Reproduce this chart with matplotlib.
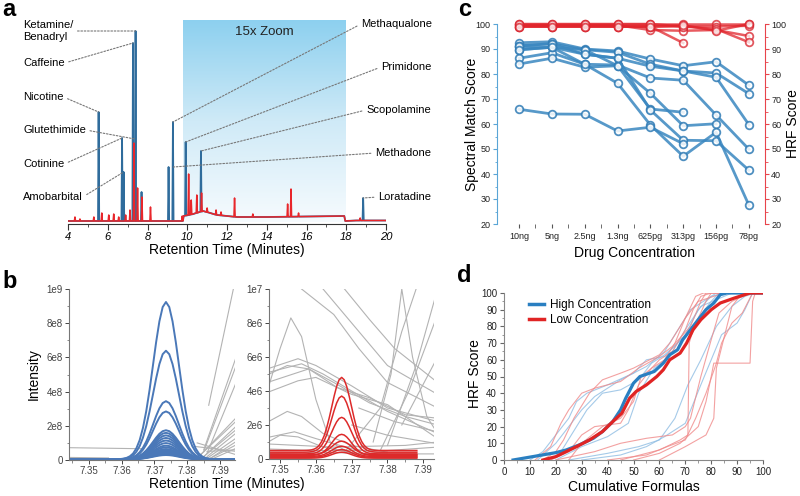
import numpy as np
import matplotlib.pyplot as plt
from matplotlib.colors import LinearSegmentedColormap
from matplotlib.ticker import MultipleLocator
from matplotlib.lines import Line2D

plt.rcParams['font.family'] = ['Liberation Sans', 'DejaVu Sans']

W, H = 800, 496

# ---------------- panel a : chromatogram (heights in arbitrary units) ----------
base_t = [4.0, 9.78, 9.82, 10.3, 10.8, 11.5, 12.5, 14.0, 16.0, 17.9, 17.95, 18.5, 20.0]
base_y = [3, 3, 8, 10, 13, 9, 7, 7, 7.5, 8, 3, 3.5, 3.5]

blue_peak_t = [5.54, 6.72, 6.80, 7.27, 7.40, 7.70, 9.06, 9.28, 9.92, 10.69, 18.85]
blue_peak_h = [112, 86, 52, 181, 193, 32, 57, 102, 82, 73, 26]

red_peak_t = [4.35, 4.6, 5.3, 5.7, 6.05, 6.3, 6.55, 6.9, 7.12, 7.32, 7.50, 7.72, 8.15,
              9.75, 10.07, 10.2, 10.48, 10.72, 11.0, 11.45, 11.7, 12.38, 13.3,
              15.05, 15.22, 15.6, 18.7]
red_peak_h = [7, 5, 7, 11, 9, 10, 7, 9, 14, 81, 36, 27, 17,
              8, 50, 24, 29, 31, 16, 14, 12, 26, 10,
              20, 35, 11, 6]

left_names = ['Ketamine/\nBenadryl', 'Caffeine', 'Nicotine', 'Glutethimide', 'Cotinine', 'Amobarbital']
left_targets = [(7.40, 193), (7.27, 181), (5.54, 112), (7.37, 85), (6.72, 86), (6.80, 52)]
right_names = ['Methaqualone', 'Primidone', 'Scopolamine', 'Methadone', 'Loratadine']
right_targets = [(9.28, 102), (9.92, 82), (10.69, 73), (9.3, 57), (18.85, 26)]

# ---------------- panel b : extracted ion peaks ----------------
half_off = [0.0, 0.001, 0.002, 0.003, 0.004, 0.005, 0.006, 0.007, 0.008, 0.009,
            0.010, 0.011, 0.012, 0.013, 0.014, 0.015, 0.016, 0.030]
half_rel = [1.0, 0.968, 0.877, 0.744, 0.591, 0.440, 0.306, 0.200, 0.122, 0.070,
            0.037, 0.019, 0.009, 0.004, 0.0016, 0.0006, 0.0, 0.0]
blue_center = 7.3735
blue_heights = [9.2e8, 6.35e8, 3.4e8, 2.8e8, 1.7e8, 1.55e8, 1.4e8, 1.25e8, 1.1e8,
                9.5e7, 8e7, 7e7, 6e7, 5.5e7, 5e7, 4.5e7, 4e7, 3.5e7, 3e7, 2.5e7]
red_center = 7.3672
red_heights = [4.3e6, 3.3e6, 2.15e6, 1.25e6, 0.8e6, 0.6e6, 0.45e6, 0.35e6]
red_bases = [0.5e6, 0.4e6, 0.3e6, 0.2e6, 0.25e6, 0.15e6, 0.1e6, 0.05e6]

gray_left = [
    ([7.344, 7.366], [7.2e7, 6.6e7]),
    ([7.344, 7.356], [1.5e7, 1.2e7]),
    ([7.344, 7.356], [0.8e7, 0.8e7]),
    ([7.3865, 7.394], [3.2e8, 1.0e9]),
    ([7.385, 7.395], [0.6e8, 6.1e8]),
    ([7.385, 7.395], [0.5e8, 5.6e8]),
    ([7.386, 7.395], [0.4e8, 4.6e8]),
    ([7.384, 7.395], [0.3e8, 2.5e8]),
    ([7.384, 7.395], [0.3e8, 2.3e8]),
    ([7.385, 7.395], [0.2e8, 2.0e8]),
    ([7.385, 7.395], [0.2e8, 1.8e8]),
    ([7.386, 7.395], [0.2e8, 1.6e8]),
    ([7.386, 7.395], [0.1e8, 1.3e8]),
    ([7.387, 7.395], [0.1e8, 1.1e8]),
    ([7.387, 7.395], [0.1e8, 0.9e8]),
    ([7.388, 7.395], [0.1e8, 0.7e8]),
    ([7.383, 7.395], [1.0e8, 0.3e8]),
    ([7.382, 7.395], [0.8e8, 0.5e8]),
    ([7.386, 7.395], [0.5e8, 0.6e8]),
]
gray_right = [
    ([7.345, 7.350, 7.353, 7.356, 7.360, 7.364, 7.370, 7.380], [3.0e6, 6.5e6, 8.3e6, 7.2e6, 3.5e6, 1.0e6, 0.3e6, 0.2e6]),
    ([7.345, 7.355, 7.360, 7.370, 7.380, 7.394], [5.2e6, 5.9e6, 5.5e6, 4.3e6, 3.0e6, 2.2e6]),
    ([7.345, 7.356, 7.362, 7.370, 7.380, 7.394], [5.0e6, 5.6e6, 5.0e6, 4.0e6, 2.8e6, 1.5e6]),
    ([7.345, 7.358, 7.365, 7.375, 7.385, 7.394], [4.4e6, 5.3e6, 4.5e6, 3.3e6, 2.5e6, 2.0e6]),
    ([7.345, 7.355, 7.360, 7.370, 7.380, 7.394], [3.8e6, 4.6e6, 4.8e6, 3.8e6, 3.2e6, 1.2e6]),
    ([7.345, 7.352, 7.358, 7.366, 7.375, 7.385, 7.394], [4.8e6, 5.5e6, 5.3e6, 4.2e6, 3.6e6, 2.6e6, 2.4e6]),
    ([7.356, 7.365, 7.372, 7.380, 7.394], [1.0e7, 8.5e6, 6.5e6, 4.5e6, 3.0e6]),
    ([7.362, 7.370, 7.380, 7.394], [1.0e7, 8.0e6, 5.5e6, 3.8e6]),
    ([7.368, 7.375, 7.382, 7.394], [1.0e7, 8.2e6, 6.5e6, 4.5e6]),
    ([7.368, 7.378, 7.384, 7.388], [0.4e6, 3.0e6, 7.5e6, 1.0e7]),
    ([7.376, 7.381, 7.384, 7.387, 7.391, 7.394], [1.0e6, 5.0e6, 1.0e7, 6.0e6, 2.5e6, 1.5e6]),
    ([7.378, 7.386, 7.394], [0.5e6, 4.0e6, 8.5e6]),
    ([7.380, 7.388, 7.394], [0.8e6, 5.5e6, 1.0e7]),
    ([7.384, 7.394], [2.0e6, 6.0e6]),
    ([7.345, 7.352, 7.356, 7.362, 7.370, 7.380], [2.0e6, 2.8e6, 2.5e6, 1.5e6, 0.8e6, 0.4e6]),
    ([7.345, 7.354, 7.360, 7.370, 7.380], [1.2e6, 1.6e6, 1.2e6, 0.6e6, 0.3e6]),
    ([7.345, 7.350, 7.355, 7.362, 7.372], [0.8e6, 1.4e6, 1.3e6, 0.7e6, 0.3e6]),
    ([7.345, 7.360, 7.380, 7.394], [0.6e6, 0.5e6, 0.5e6, 0.7e6]),
    ([7.345, 7.360, 7.380, 7.394], [0.3e6, 0.4e6, 0.3e6, 0.3e6]),
    ([7.345, 7.365, 7.385, 7.394], [0.9e6, 0.7e6, 0.8e6, 1.0e6]),
    ([7.370, 7.380, 7.394], [2.0e6, 1.4e6, 0.9e6]),
    ([7.372, 7.382, 7.394], [3.0e6, 2.2e6, 1.6e6]),
]

# ---------------- panel c : spectral match vs concentration ----------------
conc_labels = ['10ng', '5ng', '2.5ng', '1.3ng', '625pg', '313pg', '156pg', '78pg']
nan = np.nan
match_scores = [
    [92.5, 92.9, 90.0, 89.2, 86.0, 83.3, 84.9, 75.5],
    [91.3, 92.1, 89.7, 88.7, 83.9, 81.2, 80.4, 72.1],
    [89.7, 90.7, 87.9, 86.3, 83.1, 81.2, 78.7, 59.7],
    [86.3, 88.5, 83.9, 83.6, 78.4, 77.5, 63.6, 49.9],
    [90.7, 90.7, 89.7, 83.3, 72.3, 59.3, 60.1, nan],
    [84.0, 86.3, 82.7, 83.3, 66.0, 64.7, nan, nan],
    [91.3, 92.1, 87.9, 86.3, 65.6, 53.5, 53.3, 41.5],
    [89.7, 90.7, 83.9, 76.3, 59.6, 47.1, 56.7, 27.5],
    [65.9, 64.0, 63.9, 57.2, 58.7, 52.1, nan, nan],
]
hrf_scores = [
    [100, 100, 100, 100, 100, 100, 100, 100],
    [99.0, 99.0, 99.0, 99.0, 99.0, 99.0, 99.0, 99.3],
    [99.5, 99.5, 99.5, 99.5, 97.6, 97.3, 97.6, 95.2],
    [99.0, 99.0, 99.0, 99.0, 99.0, 92.4, nan, nan],
    [100, 100, 100, 100, 100, 99.0, 98.0, 92.7],
    [99.0, 99.0, 99.0, 99.0, 98.9, 99.5, 97.3, 100],
]

# ---------------- panel d : cumulative HRF ----------------
high_x = [3.5, 11, 20, 24, 29, 34.5, 38, 42, 45, 47, 50, 52.5, 58, 61.5, 64, 67, 69, 72, 76, 78, 81, 83.5, 86, 100]
high_y = [0, 2, 4.4, 6, 9, 13, 17, 23, 30, 37, 46, 50, 53, 58, 63, 66, 72, 78, 86, 90, 94, 99, 100, 100]
low_x = [15, 20, 24, 28, 33, 38, 42, 45.5, 48.5, 51, 55, 59, 61.5, 64, 68, 70.5, 73, 76, 80, 83.5, 89, 95, 100]
low_y = [0, 2, 5, 8, 12, 17, 23, 28, 37, 41, 45, 50, 54, 60, 64, 70, 78, 84, 90, 94, 97, 100, 100]
thin_high = [
    ([10, 15, 20, 25, 28, 32, 40, 50, 55, 62, 70, 75, 80, 85, 100], [0, 5, 15, 25, 35, 40, 45, 52, 60, 62, 75, 90, 98, 100, 100]),
    ([13, 20, 25, 30, 35, 45, 55, 62, 68, 72, 82, 100], [0, 10, 20, 30, 38, 48, 56, 65, 80, 90, 100, 100]),
    ([20, 30, 40, 48, 52, 58, 64, 70, 76, 88, 100], [0, 8, 14, 22, 40, 55, 62, 78, 92, 100, 100]),
    ([25, 40, 52, 60, 66, 71, 76, 82, 88, 93, 97, 100], [0, 4, 8, 12, 25, 45, 60, 80, 92, 98, 100, 100]),
    ([30, 45, 55, 62, 70, 76, 80, 84, 90, 93, 96, 100], [0, 3, 8, 14, 22, 45, 60, 75, 82, 90, 100, 100]),
    ([18, 22, 28, 32, 38, 45, 52, 57, 62, 70, 75, 80, 83, 100], [0, 5, 20, 30, 40, 42, 48, 58, 63, 74, 85, 95, 100, 100]),
]
thin_low = [
    ([12, 18, 22, 25, 30, 35, 45, 52, 60, 65, 72, 76, 78, 100], [0, 8, 22, 30, 40, 43, 47, 55, 62, 68, 80, 95, 100, 100]),
    ([15, 20, 23, 27, 33, 38, 45, 50, 60, 64, 70, 74, 77, 100], [0, 5, 12, 25, 40, 48, 52, 55, 63, 70, 85, 98, 100, 100]),
    ([18, 25, 30, 35, 45, 48, 52, 57, 62, 66, 70, 75, 85, 100], [0, 5, 15, 20, 22, 30, 45, 55, 60, 70, 85, 95, 100, 100]),
    ([20, 35, 45, 55, 65, 70, 72, 76, 80, 83, 88, 95, 100], [0, 5, 10, 13, 15, 20, 25, 50, 72, 88, 95, 100, 100]),
    ([50, 60, 68, 75, 78, 80, 81, 95, 96, 97, 100], [0, 4, 10, 20, 35, 50, 58, 58, 95, 100, 100]),
    ([45, 60, 68, 71, 71.5, 73, 75, 78, 80, 100], [0, 6, 12, 15, 70, 78, 85, 95, 100, 100]),
    ([40, 55, 63, 70, 74, 78, 82, 84, 88, 92, 96, 100], [0, 3, 8, 12, 25, 40, 58, 70, 82, 88, 100, 100]),
    ([25, 30, 38, 45, 50, 53, 57, 60, 65, 70, 73, 76, 80, 100], [0, 10, 20, 25, 35, 50, 55, 60, 65, 78, 90, 98, 100, 100]),
    ([60, 70, 78, 81, 82, 88, 92, 100], [0, 8, 15, 25, 55, 92, 100, 100]),
]


def fig_rect(x0, y0, x1, y1):
    # pixel box (top-left origin) -> figure fraction rect
    return [x0 / W, 1 - y1 / H, (x1 - x0) / W, (y1 - y0) / H]


def trace(peak_t, peak_h, width=0.03):
    xs = list(base_t)
    ys = list(base_y)
    for t, h in zip(peak_t, peak_h):
        b = np.interp(t, base_t, base_y)
        xs += [t - width, t, t + width]
        ys += [b, h, b]
    order = np.argsort(xs, kind='stable')
    return np.array(xs)[order], np.array(ys)[order]


fig = plt.figure(figsize=(8, 4.96), dpi=100)
tick_gray = '#444444'

# ======================= a =======================
axa = fig.add_axes(fig_rect(68, 20, 386, 224))
grad = LinearSegmentedColormap.from_list('zoom', ['#f6fbfe', '#cfeaf7', '#8dd0ef'])
axa.imshow(np.linspace(0, 1, 256).reshape(-1, 1), extent=[9.8, 18, 2, 204], origin='lower',
           aspect='auto', cmap=grad, zorder=0)
bx, by = trace(blue_peak_t, blue_peak_h)
axa.plot(bx, by, color='#2f6c9c', lw=1.3, zorder=2)
rx, ry = trace(red_peak_t, red_peak_h)
axa.plot(rx, ry, color='#e8262b', lw=1.1, zorder=3)
axa.text(13.9, 192, '15x Zoom', ha='center', va='center', fontsize=9.5, color='#222222')
axa.set_xlim(4, 20)
axa.set_ylim(0, 204)
for s in ['top', 'right', 'left']:
    axa.spines[s].set_visible(False)
axa.spines['bottom'].set_color('#333333')
axa.set_yticks([])
axa.set_xticks(range(4, 21, 2))
axa.set_xticklabels([str(v) for v in range(4, 21, 2)], fontstyle='italic', fontsize=8)
axa.xaxis.set_minor_locator(MultipleLocator(1))
axa.tick_params(axis='x', which='major', length=4, color='#333333', pad=2)
axa.tick_params(axis='x', which='minor', length=2, color='#333333')
fig.text(227 / W, 1 - 250 / H, 'Retention Time (Minutes)', ha='center', va='center', fontsize=10)

left_y = [31, 63, 97, 130, 164, 197]
for name, tgt, py in zip(left_names, left_targets, left_y):
    axa.annotate(name, xy=tgt, xytext=(23, H - py), textcoords='figure pixels',
                 ha='left', va='center', fontsize=8, linespacing=1.15,
                 arrowprops=dict(arrowstyle='-', linestyle=(0, (1.5, 1.5)), color='#777777',
                                 lw=0.8, shrinkA=1, shrinkB=0, relpos=(1, 0.5)),
                 annotation_clip=False)
right_x = [361, 381, 366, 375, 378]
right_y = [24, 67, 110, 153, 197]
for name, tgt, px, py in zip(right_names, right_targets, right_x, right_y):
    axa.annotate(name, xy=tgt, xytext=(px, H - py), textcoords='figure pixels',
                 ha='left', va='center', fontsize=8,
                 arrowprops=dict(arrowstyle='-', linestyle=(0, (1.5, 1.5)), color='#777777',
                                 lw=0.8, shrinkA=1, shrinkB=0, relpos=(0, 0.5)),
                 annotation_clip=False)

# ======================= b =======================
off = np.concatenate([-np.array(half_off[:0:-1]), half_off])
rel = np.concatenate([np.array(half_rel[:0:-1]), half_rel])

axb1 = fig.add_axes(fig_rect(69, 289, 235, 460))
for gx, gy in gray_left:
    axb1.plot(gx, gy, color='#b3b3b3', lw=0.8, zorder=1)
for h in blue_heights[::-1]:
    axb1.plot(blue_center + off, 4e6 + h * rel, color='#4a78b8', lw=1.4, zorder=2)
axb1.set_xlim(7.344, 7.3945)
axb1.set_ylim(0, 1e9)
axb1.set_yticks([0, 2e8, 4e8, 6e8, 8e8, 1e9])
axb1.set_yticklabels(['0', '2e8', '4e8', '6e8', '8e8', '1e9'])
axb1.yaxis.set_minor_locator(MultipleLocator(1e8))
axb1.set_ylabel('Intensity', fontsize=10, labelpad=4)

axb2 = fig.add_axes(fig_rect(269, 289, 434, 459))
for gx, gy in gray_right:
    axb2.plot(gx, gy, color='#b3b3b3', lw=0.8, zorder=1)
for h, b in zip(red_heights[::-1], red_bases[::-1]):
    axb2.plot(red_center + 0.7 * off, b + h * rel, color='#dd2a2a', lw=1.1, zorder=2)
axb2.set_xlim(7.3469, 7.393)
axb2.set_ylim(0, 1e7)
axb2.set_yticks([0, 2e6, 4e6, 6e6, 8e6, 1e7])
axb2.set_yticklabels(['0', '2e6', '4e6', '6e6', '8e6', '1e7'])
axb2.yaxis.set_minor_locator(MultipleLocator(1e6))

for ax in (axb1, axb2):
    for s in ['top', 'right']:
        ax.spines[s].set_visible(False)
    for s in ['left', 'bottom']:
        ax.spines[s].set_color('#777777')
        ax.spines[s].set_linewidth(0.8)
    ax.set_xticks([7.35, 7.36, 7.37, 7.38, 7.39])
    ax.set_xticklabels(['7.35', '7.36', '7.37', '7.38', '7.39'])
    ax.xaxis.set_minor_locator(MultipleLocator(0.005))
    ax.tick_params(labelsize=7, colors=tick_gray, length=3, width=0.7, pad=1.5)
    ax.tick_params(which='minor', length=1.8, width=0.6, colors='#777777')
fig.text(227 / W, 1 - 484 / H, 'Retention Time (Minutes)', ha='center', va='center', fontsize=10)

# ======================= c =======================
axc = fig.add_axes(fig_rect(497, 24, 765, 224))
axr = axc.twinx()
xc = np.arange(len(conc_labels))
for s in match_scores:
    axc.plot(xc, s, color='#3a87c0', lw=2.0, alpha=0.85, marker='o', ms=5.5,
             mfc='white', mec='#2f7bb5', mew=1.3, clip_on=False, zorder=3)
for s in hrf_scores:
    axr.plot(xc, s, color='#e1242b', lw=1.8, alpha=0.75, marker='o', ms=5.5,
             mfc='white', mec='#d8202a', mew=1.3, clip_on=False, zorder=3)
for ax in (axc, axr):
    ax.set_ylim(20, 100)
    ax.set_xlim(-0.67, 7.49)
    ax.set_yticks(range(20, 101, 10))
    ax.yaxis.set_minor_locator(MultipleLocator(5))
    ax.spines['top'].set_visible(False)
    ax.spines['bottom'].set_visible(False)
axc.spines['right'].set_visible(False)
axr.spines['left'].set_visible(False)
axc.spines['left'].set_color('#5aa5d6')
axr.spines['right'].set_color('#e8444b')
axc.set_xticks(xc)
axc.set_xticklabels(conc_labels)
axc.set_xticks(xc[:-1] + 0.5, minor=True)
axc.tick_params(axis='x', which='major', labelsize=6.5, length=3, colors='#555555', labelcolor='#222222', pad=3)
axc.tick_params(axis='x', which='minor', length=3, colors='#555555')
axc.tick_params(axis='y', which='major', labelsize=6.5, length=3, colors='#5aa5d6', labelcolor='#222222', pad=1.5)
axc.tick_params(axis='y', which='minor', length=1.8, colors='#5aa5d6')
axr.tick_params(axis='y', which='major', labelsize=6.5, length=3, colors='#e8444b', labelcolor='#222222', pad=1.5)
axr.tick_params(axis='y', which='minor', length=1.8, colors='#e8444b')
fig.text(472 / W, 1 - 124 / H, 'Spectral Match Score', rotation=90, ha='center', va='center', fontsize=10)
fig.text(793 / W, 1 - 124 / H, 'HRF Score', rotation=90, ha='center', va='center', fontsize=10)
fig.text(634 / W, 1 - 253 / H, 'Drug Concentration', ha='center', va='center', fontsize=10)

# ======================= d =======================
axd = fig.add_axes(fig_rect(504, 293, 763, 460))
for tx, ty in thin_high:
    axd.plot(tx, ty, color='#8fbde3', lw=0.8, alpha=0.8, zorder=1)
for tx, ty in thin_low:
    axd.plot(tx, ty, color='#f08a8a', lw=0.8, alpha=0.8, zorder=1)
axd.plot(high_x, high_y, color='#2a7fc1', lw=2.3, zorder=3)
axd.plot(low_x, low_y, color='#e02424', lw=2.3, zorder=3)
axd.set_xlim(0, 100)
axd.set_ylim(0, 100)
axd.set_xticks(range(0, 101, 10))
axd.set_yticks(range(0, 101, 10))
axd.xaxis.set_minor_locator(MultipleLocator(5))
axd.yaxis.set_minor_locator(MultipleLocator(5))
for s in ['top', 'right']:
    axd.spines[s].set_visible(False)
for s in ['left', 'bottom']:
    axd.spines[s].set_color('#888888')
axd.tick_params(labelsize=7, colors='#666666', labelcolor='#222222', length=3, pad=2)
axd.tick_params(which='minor', length=1.8, colors='#888888')
handles = [Line2D([], [], color='#2a7fc1', lw=2.5), Line2D([], [], color='#e02424', lw=2.5)]
axd.legend(handles, ['High Concentration', 'Low Concentration'], loc='upper left',
           bbox_to_anchor=(0.08, 0.99), frameon=False, fontsize=8.5, handlelength=1.2,
           handletextpad=0.5, labelspacing=0.25, borderaxespad=0)
fig.text(475 / W, 1 - 374 / H, 'HRF Score', rotation=90, ha='center', va='center', fontsize=10)
fig.text(634 / W, 1 - 487 / H, 'Cumulative Formulas', ha='center', va='center', fontsize=10)

# panel letters
for letter, px, py in [('a', 2, 16), ('b', 2, 288), ('c', 458, 16), ('d', 457, 282)]:
    fig.text(px / W, 1 - py / H, letter, fontsize=17, fontweight='bold', ha='left', va='baseline')

fig.savefig('out.png', dpi=100)
